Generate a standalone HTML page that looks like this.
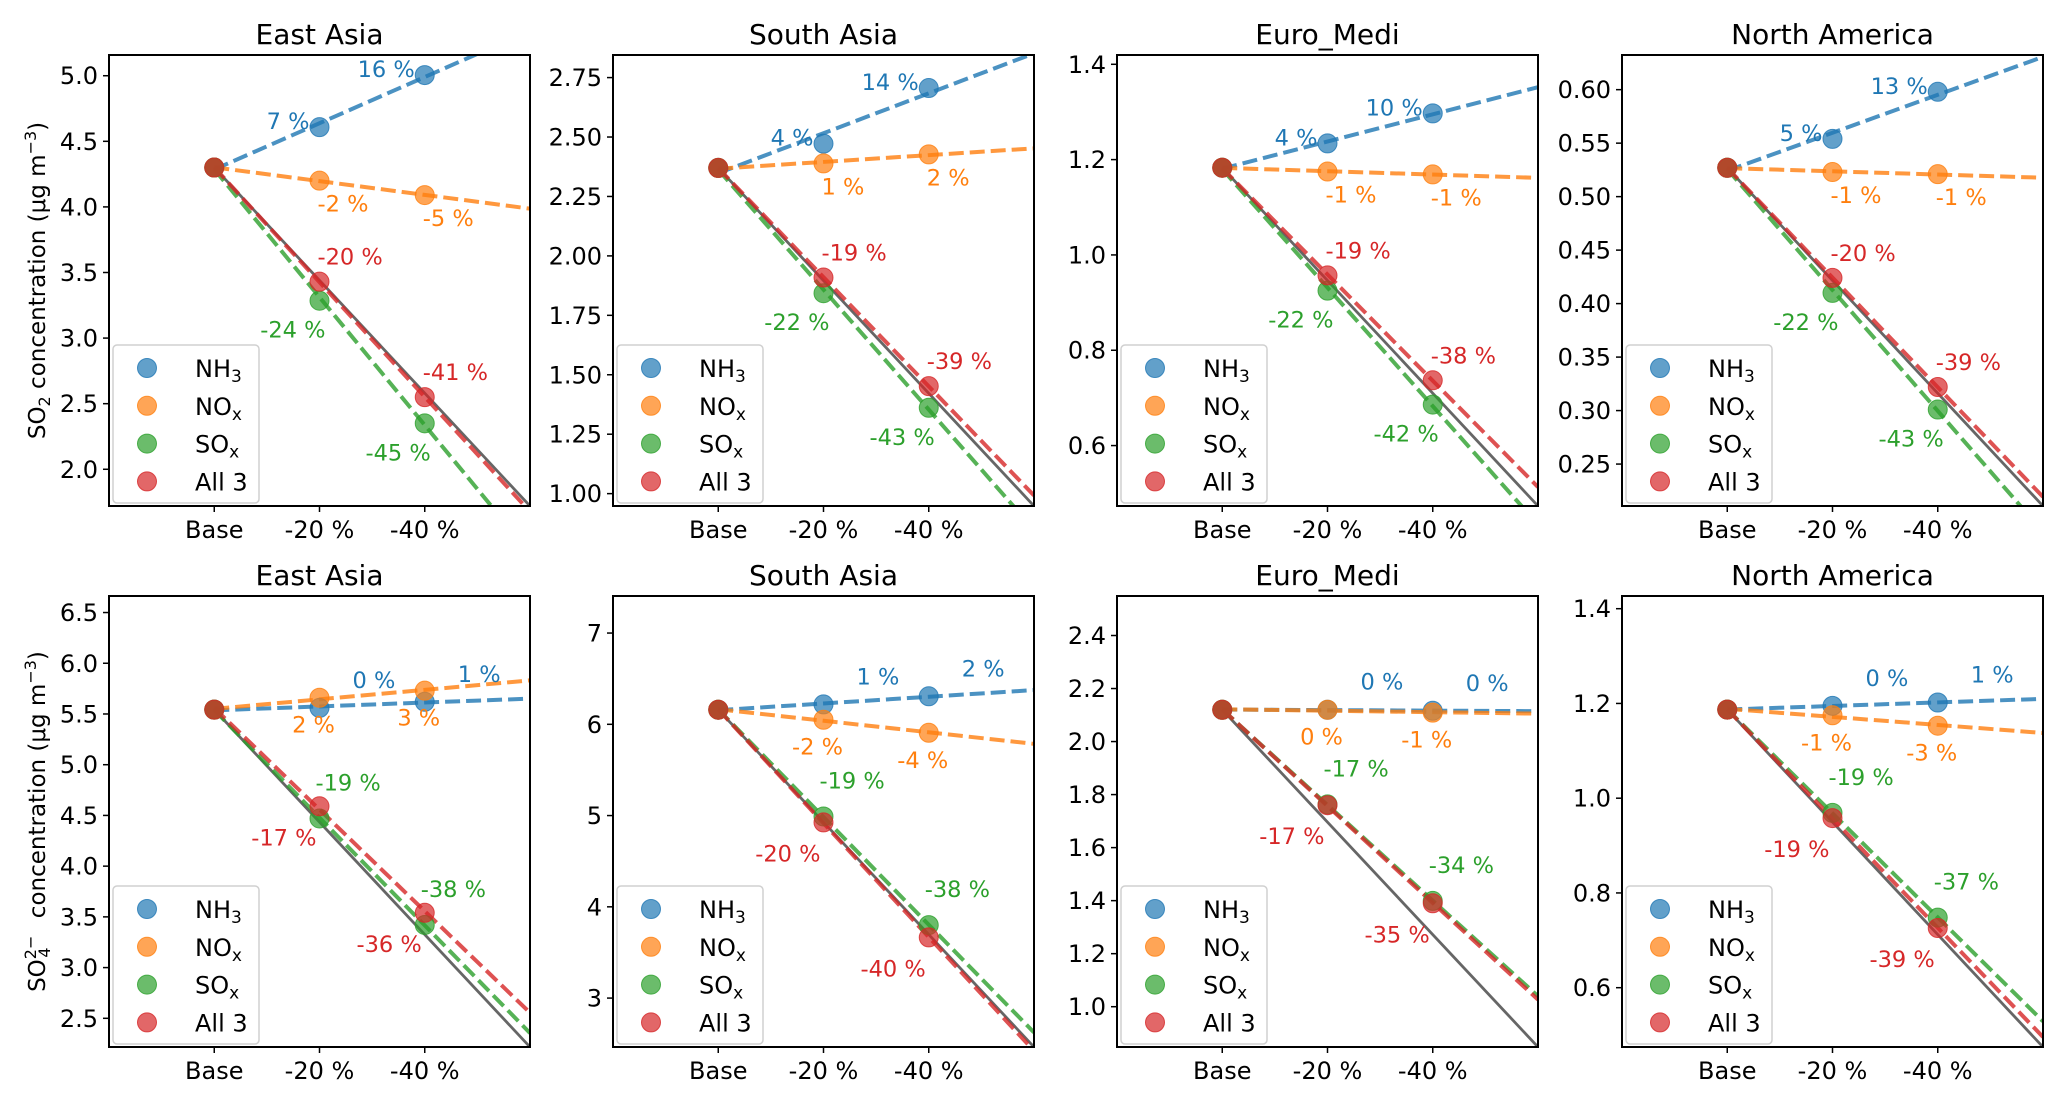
<!DOCTYPE html>
<html><head><meta charset="utf-8"><style>
html,body{margin:0;padding:0;background:#fff;}
svg{display:block;font-family:"DejaVu Sans","Liberation Sans",sans-serif;}
</style></head><body>
<svg id="fig" width="2067" height="1104" viewBox="0 0 2067 1104" xmlns="http://www.w3.org/2000/svg"></svg>
<script>
// ---------- data ----------
const regions = ["East Asia","South Asia","Euro_Medi","North America"];
const categories = ["Base","-20 %","-40 %"];
const seriesNames = ["NH3","NOx","SOx","All 3"];
// top row: SO2 values [base, -20%, -40%]
const so2Base = [4.30, 2.37, 1.183, 0.527];
const so2NH3 = [[4.608,5.005],[2.472,2.706],[1.234,1.297],[0.554,0.598]];
const so2NOx = [[4.20,4.09],[2.389,2.427],[1.175,1.169],[0.523,0.521]];
const so2SOx = [[3.285,2.35],[1.843,1.361],[0.925,0.686],[0.410,0.301]];
const so2All = [[3.43,2.55],[1.909,1.452],[0.957,0.737],[0.424,0.322]];
const so2LabNH3 = [["7%","16%"],["4%","14%"],["4%","10%"],["5%","13%"]];
const so2LabNOx = [["-2%","-5%"],["1%","2%"],["-1%","-1%"],["-1%","-1%"]];
const so2LabSOx = [["-24%","-45%"],["-22%","-43%"],["-22%","-42%"],["-22%","-43%"]];
const so2LabAll = [["-20%","-41%"],["-19%","-39%"],["-19%","-38%"],["-20%","-39%"]];
const so2Ymax = [5.158, 2.845, 1.4195, 0.6324];
const so2Ticks = [[2.0,2.5,3.0,3.5,4.0,4.5,5.0],[1.00,1.25,1.50,1.75,2.00,2.25,2.50,2.75],[0.6,0.8,1.0,1.2,1.4],[0.25,0.30,0.35,0.40,0.45,0.50,0.55,0.60]];
const so2Dec = [1,2,1,2];
// bottom row: SO4 values
const so4Base = [5.543, 6.16, 2.120, 1.187];
const so4NH3 = [[5.56,5.62],[6.218,6.307],[2.12,2.116],[1.195,1.202]];
const so4NOx = [[5.66,5.73],[6.05,5.907],[2.12,2.109],[1.175,1.153]];
const so4SOx = [[4.47,3.42],[4.99,3.80],[1.763,1.399],[0.969,0.748]];
const so4All = [[4.59,3.54],[4.925,3.665],[1.760,1.390],[0.958,0.726]];
const so4LabNH3 = [["0%","1%"],["1%","2%"],["0%","0%"],["0%","1%"]];
const so4LabNOx = [["2%","3%"],["-2%","-4%"],["0%","-1%"],["-1%","-3%"]];
const so4LabSOx = [["-19%","-38%"],["-19%","-38%"],["-17%","-34%"],["-19%","-37%"]];
const so4LabAll = [["-17%","-36%"],["-20%","-40%"],["-17%","-35%"],["-19%","-39%"]];
const so4Ymax = [6.663, 7.406, 2.549, 1.4268];
const so4Ticks = [[2.5,3.0,3.5,4.0,4.5,5.0,5.5,6.0,6.5],[3,4,5,6,7],[1.0,1.2,1.4,1.6,1.8,2.0,2.2,2.4],[0.6,0.8,1.0,1.2,1.4]];
const so4Dec = [1,0,1,1];

// ---------- layout ----------
const colors = ["#1f77b4","#ff7f0e","#2ca02c","#d62728"];
const axLeft = [109, 613, 1117, 1622];
const axW = 421, axH = 451;
const rowTop = [55, 596];
const labOff = [
  [["end",-10,2],["start",-2,31],["end",6,37],["start",-2,-17]],
  [["start",33,-20],["middle",-6,35],["start",-4,-28],["end",-3,39]]
];
const NS = "http://www.w3.org/2000/svg";
const svg = document.getElementById('fig');
function mk(tag, attrs, parent){
  const e = document.createElementNS(NS, tag);
  for (const k in attrs) e.setAttribute(k, attrs[k]);
  (parent||svg).appendChild(e);
  return e;
}
function fit(ys){
  const m = (ys[2]-ys[0])/2; const b = (ys[0]+ys[1]+ys[2])/3 - m; return [m,b];
}

function panel(row, p, base, vals, labs, ymax, ticks, dec){
  const L = axLeft[p], T = rowTop[row];
  const ymin = base*0.4;
  const xs = v => L + (v+1)/4*axW;
  const ys = v => T + (ymax - v)/(ymax - ymin)*axH;
  const g = mk('g', {});
  
  
  const cid = 'clip'+row+p;
  const cp = mk('clipPath', {id:cid}, g);
  mk('rect', {x:L, y:T, width:axW, height:axH}, cp);
  const t = mk('text', {x:L+axW/2, y:T-11, 'font-size':28, 'text-anchor':'middle', fill:'#000'}, g);
  t.textContent = regions[p];
  
  
  const plot = mk('g', {'clip-path':'url(#'+cid+')'}, g);
  const gl = mk('line', {x1:xs(0), y1:ys(base), x2:xs(3), y2:ys(base*0.4), stroke:'#666', 'stroke-width':2.8}, plot);
  
  
  for (let s=0; s<4; s++){
    const y3 = [base, vals[s][p][0], vals[s][p][1]];
    const [m,b] = fit(y3);
    const ln = mk('line', {x1:xs(0), y1:ys(b), x2:xs(3), y2:ys(b+3*m), stroke:colors[s], 'stroke-width':4, 'stroke-dasharray':'15,6', opacity:0.8}, plot);
    
    
  }
  for (let s=0; s<4; s++){
    const y3 = [base, vals[s][p][0], vals[s][p][1]];
    for (let i=0;i<3;i++){
      const c = mk('circle', {cx:xs(i), cy:ys(y3[i]), r:9.5, fill:colors[s], 'fill-opacity':0.7, stroke:colors[s], 'stroke-opacity':0.8, 'stroke-width':1}, plot);
      
      
    }
  }
  for (let s=0; s<4; s++){
    const o = labOff[row][s];
    for (let i=0;i<2;i++){
      const tx = mk('text', {x:xs(i+1)+o[1], y:ys(vals[s][p][i])+o[2], 'font-size':22.5, 'text-anchor':o[0], fill:colors[s]}, g);
      tx.textContent = labs[s][p][i].replace('%',' %');
      
      
    }
  }
  const fr = mk('rect', {x:L, y:T, width:axW, height:axH, fill:'none', stroke:'#000', 'stroke-width':2}, g);
  
  
  ticks[p].forEach(v=>{
    const y = ys(v);
    mk('line', {x1:L-6, y1:y, x2:L, y2:y, stroke:'#000', 'stroke-width':1.5}, g);
    const tl = mk('text', {x:L-11, y:y+8.5, 'font-size':24, 'text-anchor':'end', fill:'#000'}, g);
    tl.textContent = v.toFixed(dec[p]);
    
    
  });
  categories.forEach((c,i)=>{
    const x = xs(i);
    mk('line', {x1:x, y1:T+axH, x2:x, y2:T+axH+6, stroke:'#000', 'stroke-width':1.5}, g);
    const tl = mk('text', {x:x, y:T+axH+32, 'font-size':24, 'text-anchor':'middle', fill:'#000'}, g);
    tl.textContent = c;
    
    
  });
  const lg = mk('g', {}, g);
  
  
  const lt = T+axH-161;
  mk('rect', {x:L+4, y:lt, width:146, height:158, rx:4, fill:'#fff', 'fill-opacity':0.8, stroke:'#d0d0d0', 'stroke-width':1.5}, lg);
  const names = [["NH","3"],["NO","x"],["SO","x"],["All 3",""]];
  names.forEach((n,k)=>{
    const cy = lt+23+k*37.8;
    const c = mk('circle', {cx:L+38, cy:cy, r:9.5, fill:colors[k], 'fill-opacity':0.7, stroke:colors[k], 'stroke-opacity':0.8}, lg);
    
    
    const tx = mk('text', {x:L+86, y:cy+9, 'font-size':24, fill:'#000'}, lg);
    tx.textContent = n[0];
    if (n[1]) { const sb = mk('tspan', {'font-size':17, dy:5}, tx); sb.textContent = n[1]; }
    
    
  });
}

const top4 = [so2NH3, so2NOx, so2SOx, so2All];
const topL = [so2LabNH3, so2LabNOx, so2LabSOx, so2LabAll];
const bot4 = [so4NH3, so4NOx, so4SOx, so4All];
const botL = [so4LabNH3, so4LabNOx, so4LabSOx, so4LabAll];
for (let p=0;p<4;p++){
  panel(0, p, so2Base[p], top4, topL, so2Ymax[p], so2Ticks, so2Dec);
  panel(1, p, so4Base[p], bot4, botL, so4Ymax[p], so4Ticks, so4Dec);
}
function ytitle(y, sub, sup, name){
  const t = mk('text', {transform:'translate(45,'+y+') rotate(-90)', 'font-size':23, 'text-anchor':'middle', fill:'#000'});
  
  
  const a = mk('tspan', {}, t); a.textContent = 'SO';
  if (sup) { const s1 = mk('tspan', {'font-size':16, dy:-9}, t); s1.textContent = sup; const s2 = mk('tspan', {'font-size':16, dx:-22, dy:14}, t); s2.textContent = sub; const b = mk('tspan', {dy:-5}, t); b.textContent = '\u00a0\u00a0\u00a0 concentration (μg m'; }
  else { const s2 = mk('tspan', {'font-size':16, dy:5}, t); s2.textContent = sub; const b = mk('tspan', {dy:-5}, t); b.textContent = ' concentration (μg m'; }
  const e = mk('tspan', {'font-size':16, dy:-9}, t); e.textContent = '−3';
  const f = mk('tspan', {dy:9}, t); f.textContent = ')';
}
ytitle(rowTop[0]+axH/2, '2', '', 'y-axis-title-so2');
ytitle(rowTop[1]+axH/2, '4', '2−', 'y-axis-title-so4');
</script>
</body></html>
